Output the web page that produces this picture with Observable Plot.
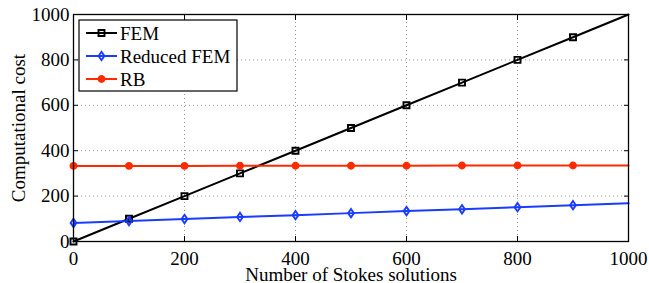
<!DOCTYPE html>
<html>
<head>
<meta charset="utf-8">
<script src="https://cdn.jsdelivr.net/npm/d3@7"></script>
<script src="https://cdn.jsdelivr.net/npm/@observablehq/plot@0.6"></script>
<style>
  body { margin: 0; background: #fff; }
  #chart { position: relative; width: 649px; height: 283px; }
  svg { font-family: "Liberation Serif", "Times New Roman", serif; }
</style>
</head>
<body>
<div id="chart"></div>
<script>
const xValues = [0, 100, 200, 300, 400, 500, 600, 700, 800, 900, 1000];
const femCost = [0, 100, 200, 300, 400, 500, 600, 700, 800, 900, 1000];
const reducedFemCost = [82, 90, 99, 108, 116, 125, 134, 142, 151, 160, 168];
const rbCost = [333, 333, 333, 334, 334, 334, 334, 335, 335, 335, 335];
const seriesNames = ["FEM", "Reduced FEM", "RB"];
const seriesColors = ["#000000", "#1a3cff", "#ff2a00"];
const xTicks = [0, 200, 400, 600, 800, 1000];
const yTicks = [0, 200, 400, 600, 800, 1000];

const seriesValues = [femCost, reducedFemCost, rbCost];
const rows = [];
seriesNames.forEach((name, i) => {
  xValues.forEach((x, j) => rows.push({series: name, x, y: seriesValues[i][j]}));
});
const markerRows = rows.filter(d => d.x < 1000);

const squareSym = {draw(ctx) { ctx.moveTo(-3,-3); ctx.lineTo(3,-3); ctx.lineTo(3,3); ctx.lineTo(-3,3); ctx.closePath(); }};
const diamondSym = {draw(ctx) { ctx.moveTo(0,-4.2); ctx.lineTo(2.9,0); ctx.lineTo(0,4.2); ctx.lineTo(-2.9,0); ctx.closePath(); }};
const circleSym = {draw(ctx) { ctx.moveTo(3,0); ctx.arc(0,0,3,0,2*Math.PI); }};
const symbolOf = {"FEM": squareSym, "Reduced FEM": diamondSym, "RB": circleSym};
const colorOf = Object.fromEntries(seriesNames.map((n, i) => [n, seriesColors[i]]));

const fs = "19px";
const fmt = d3.format("d");
const plot = Plot.plot({
  width: 649,
  height: 283,
  marginLeft: 73,
  marginRight: 21,
  marginTop: 14,
  marginBottom: 42,
  style: {fontFamily: '"Liberation Serif", "Times New Roman", serif', fontSize: fs, background: "white"},
  x: {domain: [0, 1000]},
  y: {domain: [0, 1000]},
  marks: [
    Plot.gridX(xTicks.slice(1, -1), {stroke: "#777", strokeOpacity: 1, strokeDasharray: "1,3", strokeWidth: 0.8}),
    Plot.gridY(yTicks.slice(1, -1), {stroke: "#777", strokeOpacity: 1, strokeDasharray: "1,3", strokeWidth: 0.8}),
    Plot.axisX({ticks: xTicks, tickSize: -5, tickFormat: () => "", label: null, strokeWidth: 1}),
    Plot.axisX({ticks: xTicks, anchor: "top", tickSize: -5, tickFormat: () => "", label: null, strokeWidth: 1}),
    Plot.axisY({ticks: yTicks, tickSize: -5, tickFormat: () => "", label: null, strokeWidth: 1}),
    Plot.axisY({ticks: yTicks, anchor: "right", tickSize: -5, tickFormat: () => "", label: null, strokeWidth: 1}),
    Plot.axisX({ticks: xTicks, tickSize: 0, tickPadding: 10, tickFormat: fmt, fontSize: fs, fill: "black",
      label: "Number of Stokes solutions", labelAnchor: "center", labelArrow: "none", labelOffset: 39}),
    Plot.axisY({ticks: yTicks, tickSize: 0, tickPadding: 4, tickFormat: fmt, fontSize: fs, fill: "black",
      label: "Computational cost", labelAnchor: "center", labelArrow: "none", labelOffset: 62}),
    Plot.line(rows, {x: "x", y: "y", z: "series", stroke: d => colorOf[d.series], strokeWidth: 2}),
    Plot.dot(markerRows, {x: "x", y: "y", symbol: d => symbolOf[d.series],
      stroke: d => colorOf[d.series], fill: d => d.series === "RB" ? colorOf[d.series] : "none", strokeWidth: 1.9, r: 3}),
    Plot.frame({stroke: "black", strokeWidth: 1.3})
  ]
});
document.getElementById("chart").appendChild(plot);

// Legend inside the SVG
const svg = d3.select(plot);
const lg = svg.append("g").attr("transform", "translate(79,20)").attr("text-anchor", "start");
lg.append("rect").attr("width", 158).attr("height", 71).attr("fill", "white").attr("stroke", "black").attr("stroke-width", 1.2);
seriesNames.forEach((name, i) => {
  const cy = 13 + i * 23;
  const g = lg.append("g").attr("transform", `translate(0,${cy})`);
  g.append("line").attr("x1", 7).attr("x2", 38).attr("y1", 0).attr("y2", 0).attr("stroke", seriesColors[i]).attr("stroke-width", 2);
  const sym = symbolOf[name];
  g.append("path").attr("transform", "translate(22.5,0)")
    .attr("d", d3.symbol(sym)())
    .attr("stroke", seriesColors[i]).attr("stroke-width", 1.9)
    .attr("fill", name === "RB" ? seriesColors[i] : "none");
  g.append("text").attr("x", 41).attr("y", 0).attr("dy", "0.35em")
    .attr("text-anchor", "start")
    .attr("font-size", fs).attr("fill", "black").text(name);
});
</script>
</body>
</html>
